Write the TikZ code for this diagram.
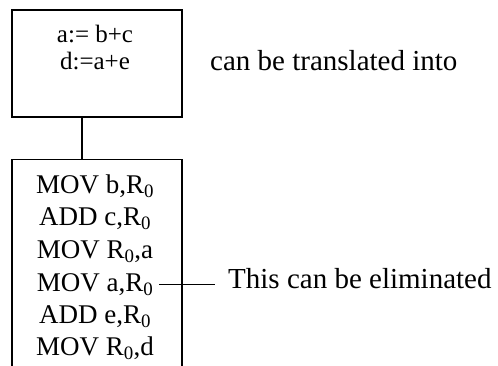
\documentclass[tikz,border=0pt]{standalone}
\usepackage{fontspec}
\setmainfont{Liberation Serif}
\usepackage{tikz}
\usetikzlibrary{positioning}

\begin{document}
\begin{tikzpicture}[
        x=1pt, y=-1pt,
        codebox/.style={rectangle, draw=black, line width=1.2pt, fill=white, minimum width=170pt},
        instr/.style={anchor=base, inner xsep=6pt, inner ysep=1pt, font=\fontsize{27}{30}\selectfont},
        stmt/.style={anchor=base, inner sep=0pt, font=\fontsize{25}{28}\selectfont},
        note/.style={anchor=base west, inner xsep=13pt, inner ysep=2pt, font=\fontsize{29}{32}\selectfont},
        link/.style={line width=1.2pt, color=black}
    ]
        \useasboundingbox (0,0) rectangle (498,365);
        \clip (0,0) rectangle (498,365);
        \fill[white] (0,0) rectangle (498,365);

        % source statements
        \node[codebox, minimum height=107pt] (ops) at (97,63.5) {};
        \node[stmt] (asgA) at (95,42) {a:= b+c};
        \node[stmt] (asgD) at (95,69) {d:=a+e};
        \node[note, inner xsep=0pt] (translated) at (210,70) {can be translated into};

        % generated code
        \node[codebox, anchor=north, minimum height=230pt] (code) at (97,159) {};
        \node[instr] (movb) at (95,193) {MOV b,R\textsubscript{0}};
        \node[instr] (addc) at (95,225) {ADD c,R\textsubscript{0}};
        \node[instr] (movra) at (95,258) {MOV R\textsubscript{0},a};
        \node[instr] (mova) at (95,291) {MOV a,R\textsubscript{0}};
        \node[instr] (adde) at (95,323) {ADD e,R\textsubscript{0}};
        \node[instr] (movrd) at (95,355) {MOV R\textsubscript{0},d};

        \node[note] (elim) at (215,288) {This can be eliminated};

        \draw[link] ([xshift=-15pt]ops.south) -- ([xshift=-15pt]code.north);
        \draw[link] (mova.east) -- (elim.west |- mova.east);
    \end{tikzpicture}
\end{document}
